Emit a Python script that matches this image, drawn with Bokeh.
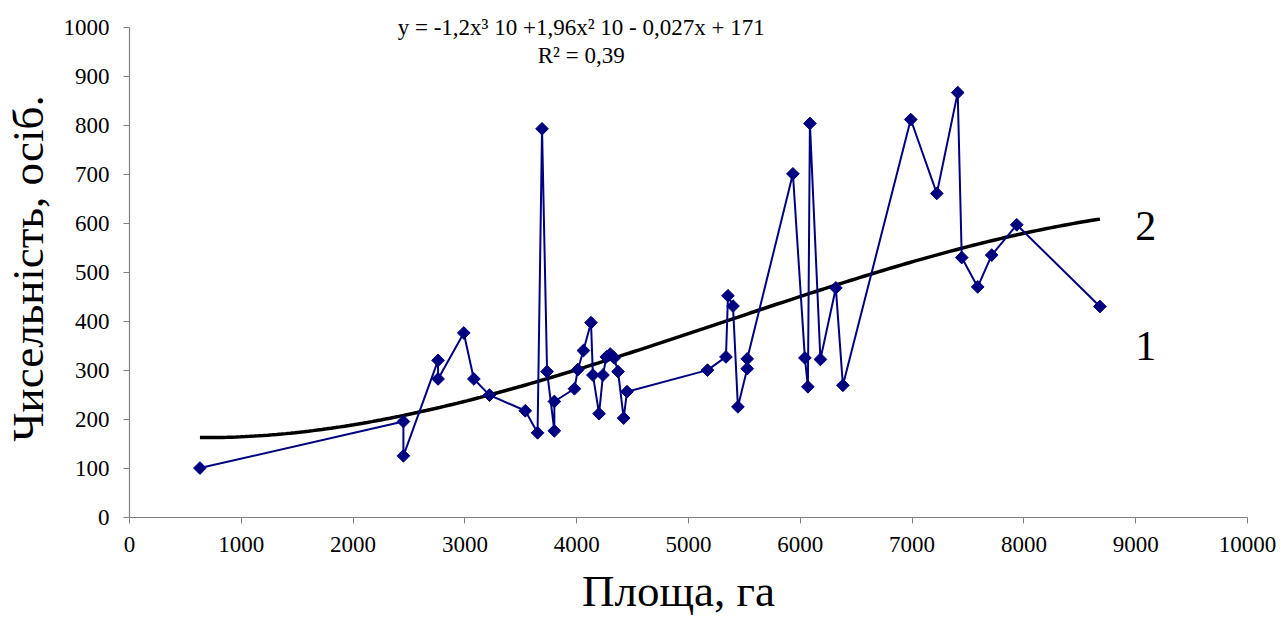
import numpy as np
from bokeh.plotting import figure
from bokeh.models import FixedTicker, Label, ColumnDataSource
from bokeh.embed import file_html
from bokeh.resources import INLINE

# Data (area, ha -> population)
area = [630, 2450, 2450, 2760, 2760, 2990, 3080, 3220, 3540, 3650, 3690, 3735,
        3800, 3800, 3980, 4010, 4060, 4128, 4145, 4200, 4235, 4265, 4300, 4335,
        4370, 4420, 4450, 5170, 5335, 5353, 5398, 5442, 5525, 5525, 5934, 6041,
        6068, 6086, 6180, 6318, 6381, 6988, 7221, 7408, 7444, 7587, 7712, 7936,
        8680]
population = [100, 195, 125, 320, 282, 376, 282, 249, 217, 172, 793, 297,
              176, 236, 262, 301, 340, 397, 290, 211, 290, 327, 333, 325,
              297, 202, 256, 300, 327, 452, 431, 225, 303, 323, 701, 325,
              266, 804, 322, 468, 269, 812, 661, 867, 530, 470, 535, 597,
              430]

x_ticks = list(range(0, 10001, 1000))
y_ticks = list(range(0, 1001, 100))
x_tick_labels = [str(t) for t in x_ticks]
y_tick_labels = [str(t) for t in y_ticks]

equation_text = "y = -1,2x\u00b3 10 +1,96x\u00b2 10 - 0,027x + 171"
r2_text = "R\u00b2 = 0,39"
x_title = "Площа, га"
y_title = "Чисельність, осіб."

FONT = "Liberation Serif"
NAVY = "#000080"

# Polynomial (3rd order) trend line fitted to the data, as in the original chart
coef = np.polyfit(area, population, 3)
tx = np.linspace(min(area), max(area), 200)
ty = np.polyval(coef, tx)

# The frame covers almost the whole canvas; the axes are drawn at x=0 / y=0
# (fixed_location) and bounded to the data extent, so that serif tick labels
# and titles can be placed as text without being clipped.
W, H = 1288, 624
LEFT, BOTTOM = 12, 8
X0_PX, X1_PX = 129.0, 1247.0      # pixel positions of x=0 and x=10000
Y0_PX, Y1_PX = 516.5, 27.0        # pixel positions of y=0 and y=1000
kx = (X1_PX - X0_PX) / 10000.0
ky = (Y0_PX - Y1_PX) / 1000.0
x_start = -(X0_PX - LEFT) / kx
x_end = 10000 + (W - X1_PX) / kx
y_end = 1000 + Y1_PX / ky
y_start = -((H - BOTTOM) - Y0_PX) / ky

p = figure(width=W, height=H, output_backend="svg", toolbar_location=None,
           x_range=(x_start, x_end), y_range=(y_start, y_end),
           min_border_left=LEFT, min_border_right=0,
           min_border_top=0, min_border_bottom=BOTTOM)
p.outline_line_color = None
p.xgrid.visible = False
p.ygrid.visible = False
p.background_fill_color = "white"
p.border_fill_color = "white"

p.line(tx, ty, line_color="black", line_width=3.5)
src = ColumnDataSource(dict(x=area, y=population))
p.line("x", "y", source=src, line_color=NAVY, line_width=2)
p.scatter("x", "y", source=src, marker="square", angle=np.pi / 4, size=9,
          fill_color=NAVY, line_color=NAVY)

p.axis.axis_line_color = "#808080"
p.axis.axis_line_width = 1.2
p.axis.major_tick_line_color = "#808080"
p.axis.major_tick_out = 6
p.axis.major_tick_in = 0
p.axis.minor_tick_out = 0
p.axis.minor_tick_in = 0
# the axes' own labels are not drawn (serif labels are added below)
p.axis.major_label_text_font_size = "1px"
p.axis.major_label_text_color = None
p.axis.major_label_standoff = 0
p.xaxis.ticker = FixedTicker(ticks=x_ticks)
p.yaxis.ticker = FixedTicker(ticks=y_ticks)
p.xaxis.bounds = (0, 10000)
p.yaxis.bounds = (0, 1000)
p.xaxis.fixed_location = 0
p.yaxis.fixed_location = 0

# tick labels (serif), positioned at the tick values
for t, s in zip(x_ticks, x_tick_labels):
    p.add_layout(Label(x=t, y=0, text=s, y_offset=-20, text_font=FONT,
                       text_font_size="23px", text_color="black",
                       text_align="center", text_baseline="top"))
for t, s in zip(y_ticks, y_tick_labels):
    p.add_layout(Label(x=0, y=t, text=s, x_offset=-20, text_font=FONT,
                       text_font_size="23px", text_color="black",
                       text_align="right", text_baseline="middle"))

# axis titles (kept fully inside the drawing area)
p.add_layout(Label(x=(678 - X0_PX) / kx, y=-((H - BOTTOM - 1) - Y0_PX) / ky,
                   text=x_title, text_font=FONT, text_font_size="45px",
                   text_align="center", text_baseline="bottom",
                   text_color="black"))
p.add_layout(Label(x=(27 - X0_PX) / kx, y=(Y0_PX - 268) / ky, text=y_title,
                   angle=np.pi / 2, text_font=FONT, text_font_size="45px",
                   text_align="center", text_baseline="middle",
                   text_color="black"))

p.add_layout(Label(x=4040, y=1000, text=equation_text, text_font=FONT,
                   text_font_size="23px", text_align="center",
                   text_baseline="middle", text_color="black"))
p.add_layout(Label(x=4040, y=943, text=r2_text, text_font=FONT,
                   text_font_size="23px", text_align="center",
                   text_baseline="middle", text_color="black"))
p.add_layout(Label(x=9090, y=595, text="2", text_font=FONT,
                   text_font_size="42px", text_align="center",
                   text_baseline="middle", text_color="black"))
p.add_layout(Label(x=9090, y=350, text="1", text_font=FONT,
                   text_font_size="42px", text_align="center",
                   text_baseline="middle", text_color="black"))

open("out.html", "w").write(file_html(p, INLINE))
